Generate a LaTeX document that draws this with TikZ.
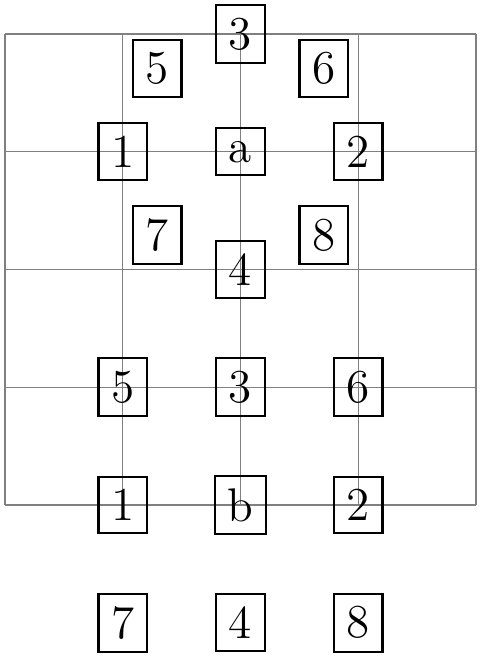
\documentclass[tikz,border=0pt]{standalone}
\begin{document}
\begin{tikzpicture}[x=1cm,y=1cm,
  lbl/.style={draw=black,line width=0.5pt,inner sep=3.07pt,font=\fontsize{11.4}{13.7}\selectfont}]
\useasboundingbox (-0.0425,-1.291) rectangle (4.051,4.289);
\draw[gray,line width=0.3pt] (0,0) grid (4,4);
% figure a
\node[lbl] (a) at (2,3) {a};
\node[lbl] (a1) at (1,3) {1};
\node[lbl] (a2) at (3,3) {2};
\node[lbl] (a3) at (2,4) {3};
\node[lbl] (a4) at (2,2) {4};
\node[lbl] (a5) at (1.2929,3.7071) {5};
\node[lbl] (a6) at (2.7071,3.7071) {6};
\node[lbl] (a7) at (1.2929,2.2929) {7};
\node[lbl] (a8) at (2.7071,2.2929) {8};
% figure b
\node[lbl] (b) at (2,0) {b};
\node[lbl] (b1) at (1,0) {1};
\node[lbl] (b2) at (3,0) {2};
\node[lbl] (b3) at (2,1) {3};
\node[lbl] (b4) at (2,-1) {4};
\node[lbl] (b5) at (1,1) {5};
\node[lbl] (b6) at (3,1) {6};
\node[lbl] (b7) at (1,-1) {7};
\node[lbl] (b8) at (3,-1) {8};
\end{tikzpicture}
\end{document}
